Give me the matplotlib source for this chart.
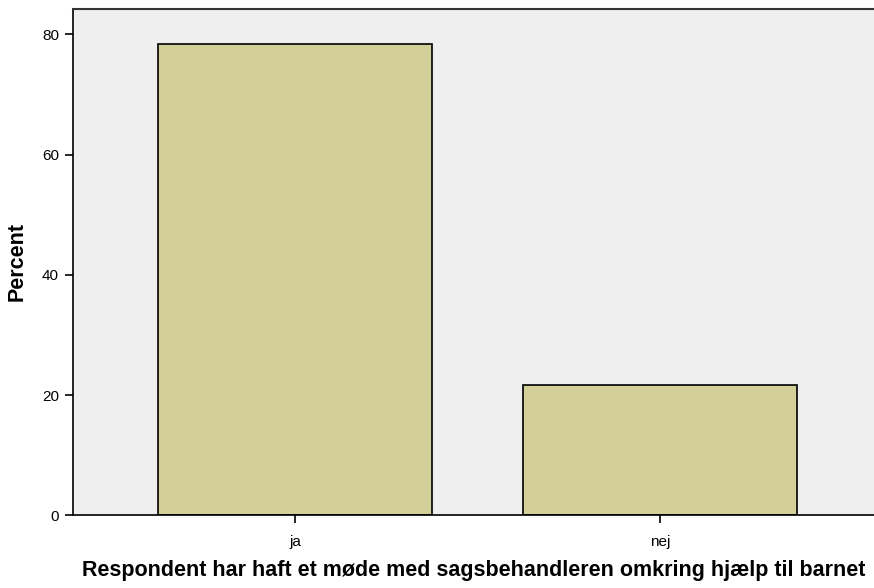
import matplotlib.pyplot as plt

# Data
categories = ['ja', 'nej']
percent = [78.4, 21.6]

plt.rcParams['font.family'] = ['Liberation Sans', 'DejaVu Sans']

fig = plt.figure(figsize=(8.74, 5.88), dpi=100)
ax = fig.add_axes([73 / 874, 1 - 515.3 / 588, 1 - 73 / 874, (515.3 - 8.5) / 588])
ax.set_facecolor('#efefef')

x = range(len(categories))
ax.bar(x, percent, width=0.75, color='#d2cf98', edgecolor='black', linewidth=1.2, zorder=2)

ax.set_xlim(-0.608, 1.586)
ax.set_ylim(0, 84.3)
ax.set_xticks(list(x))
ax.set_xticklabels(categories)
ax.set_yticks([0, 20, 40, 60, 80])

ax.spines['right'].set_visible(False)
ax.spines['top'].set_color('#333333')
ax.spines['top'].set_linewidth(1.5)
for s in ['left', 'bottom']:
    ax.spines[s].set_linewidth(1.2)
ax.tick_params(axis='both', direction='out', length=6, width=1.2, labelsize=11)
ax.tick_params(axis='y', pad=4)
ax.tick_params(axis='x', pad=8)

ax.set_ylabel('Percent', fontsize=15.5, fontweight='bold', va='center')
ax.yaxis.set_label_coords(-0.0693, 0.5)
ax.set_xlabel('Respondent har haft et møde med sagsbehandleren omkring hjælp til barnet',
              fontsize=15.5, fontweight='bold', va='center')
ax.xaxis.set_label_coords(0.5006, -0.108)

fig.savefig('out.png', dpi=100)
